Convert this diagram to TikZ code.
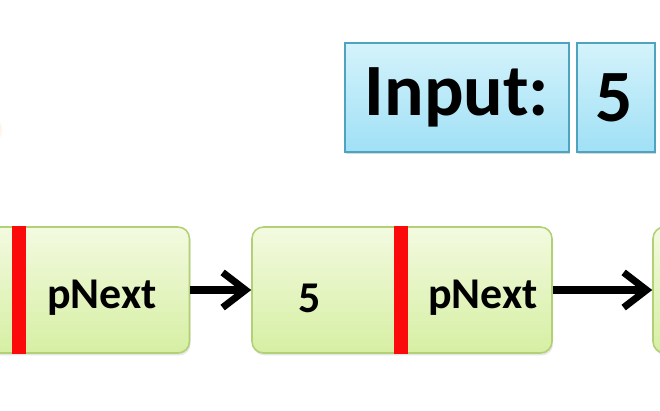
\documentclass[tikz,border=0pt]{standalone}
\usepackage{fontspec}
\setmainfont{Carlito}
\usetikzlibrary{arrows.meta,shadows}

\definecolor{celltop}{RGB}{243,250,224}
\definecolor{cellbot}{RGB}{214,239,163}
\definecolor{cellline}{RGB}{178,208,118}
\definecolor{intop}{RGB}{212,243,251}
\definecolor{inbot}{RGB}{160,224,246}
\definecolor{inline}{RGB}{78,164,190}
\definecolor{divred}{RGB}{250,10,10}

\tikzset{
  cell/.style={draw=cellline, line width=0.9pt, rounded corners=6.5pt,
    top color=celltop, bottom color=cellbot, minimum height=2.52cm,
    drop shadow={opacity=0.2, shadow xshift=0.6pt, shadow yshift=-1.4pt}},
  inbox/.style={draw=inline, line width=0.9pt, top color=intop, bottom color=inbot,
    minimum height=2.18cm,
    drop shadow={opacity=0.3, shadow xshift=0.8pt, shadow yshift=-1.4pt}},
  divider/.style={divred, line width=7.5pt},
  lbl/.style={font=\fontsize{25}{25}\selectfont\bfseries},
  biglbl/.style={font=\fontsize{42}{42}\selectfont\bfseries},
  ptr/.style={line width=4.2pt, -{Straight Barb[length=13pt,width=20pt,line width=4pt]}}
}

\begin{document}
\begin{tikzpicture}[x=0.02cm,y=-0.02cm]

  \useasboundingbox (0,0) rectangle (660,410);
  \clip (0,0) rectangle (660,410);

  % faint piece of something at the left edge
  \fill[orange!40, opacity=0.2] (-8,130) ellipse (10 and 14);

  % input
  \node[inbox, minimum width=4.48cm] (input) at (457,97.5) {};
  \node[biglbl] (inputtxt) at (457,97.5) {Input:};
  \node[inbox, minimum width=1.56cm] (inval) at (616,97.5) {};
  \node[biglbl] (invaltxt) at (614,97.5) {5};

  % list
  \node[cell, minimum width=6.42cm] (na) at (29,290) {};
  \node[cell, minimum width=6cm] (nb) at (402,290) {};
  \node[cell, minimum width=6cm] (nc) at (803,290) {};

  \draw[divider] (na.north -| 19,0) -- (na.south -| 19,0);
  \draw[divider] (nb.north -| 401,0) -- (nb.south -| 401,0);

  \node[lbl] (nanext) at (102,298) {pNext};
  \node[lbl] (nbval) at (310,298) {5};
  \node[lbl] (nbnext) at (483,298) {pNext};

  \draw[ptr] (na.east) -- (nb.west);
  \draw[ptr] (nb.east) -- (nc.west);

\end{tikzpicture}
\end{document}
